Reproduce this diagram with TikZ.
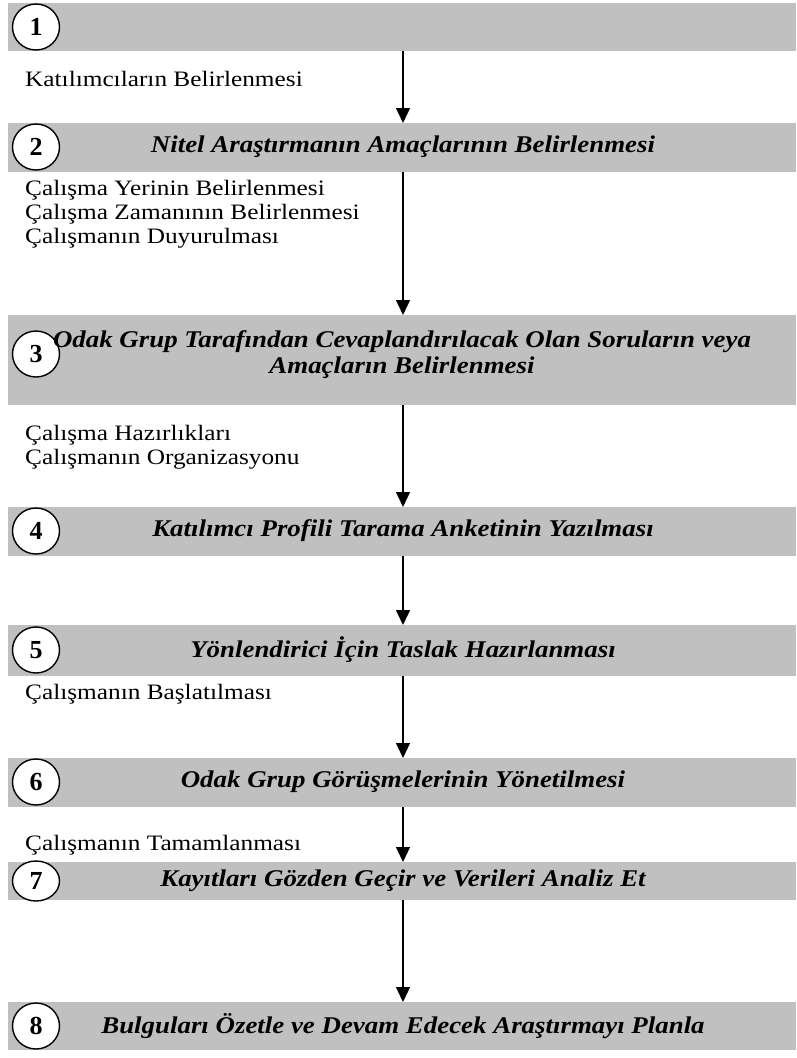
\documentclass[tikz,border=0pt]{standalone}
\usepackage{fontspec}
\setmainfont{Liberation Serif}
\newfontfamily\stagefont[FakeStretch=1.12]{Liberation Serif}
\newfontfamily\notesfont[FakeStretch=1.15]{Liberation Serif}
\usetikzlibrary{arrows.meta}
\definecolor{bargray}{RGB}{192,192,192}
\tikzset{
  bar/.style={fill=bargray, draw=none},
  ring/.style={line width=1.4pt, fill=white},
  num/.style={font=\fontsize{26}{26}\selectfont\bfseries, inner sep=0pt},
  title/.style={font=\stagefont\fontsize{24}{26}\selectfont\bfseries\itshape, inner sep=0pt, align=center},
  note/.style={font=\notesfont\fontsize{22}{24}\selectfont, inner sep=0pt, anchor=west, align=left},
  flow/.style={line width=1.3pt, -{Triangle[width=14pt,length=15pt]}}
}
\begin{document}
\begin{tikzpicture}[x=1pt,y=-1pt]
\useasboundingbox (0,0) rectangle (796,1058);
% grey stage bars
\fill[bar] (8,3)    rectangle (796,51);
\fill[bar] (8,123)  rectangle (796,172);
\fill[bar] (8,315)  rectangle (796,405);
\fill[bar] (8,507)  rectangle (796,556);
\fill[bar] (8,625)  rectangle (796,676);
\fill[bar] (8,758)  rectangle (796,807);
\fill[bar] (8,862)  rectangle (796,900);
\fill[bar] (8,1002) rectangle (796,1050);
% arrow end points on the bar edges
\coordinate (b1s) at (403,51);
\coordinate (b2n) at (403,123);  \coordinate (b2s) at (403,172);
\coordinate (b3n) at (403,315);  \coordinate (b3s) at (403,405);
\coordinate (b4n) at (403,507);  \coordinate (b4s) at (403,556);
\coordinate (b5n) at (403,625);  \coordinate (b5s) at (403,676);
\coordinate (b6n) at (403,758);  \coordinate (b6s) at (403,807);
\coordinate (b7n) at (403,862);  \coordinate (b7s) at (403,900);
\coordinate (b8n) at (403,1002);
% numbered circles
\foreach \n/\y/\r in {1/27/23,2/147/23,3/354/23,4/531/23,5/650/23,6/782/23,7/881/20,8/1026/23}{
  \draw[ring] (36,\y) ellipse [x radius=23.5, y radius=\r];
  \node[num] (c\n) at (36,\y) {\n};
}
% stage titles
\node[title] (t2) at (403,147) {Nitel Araştırmanın Amaçlarının Belirlenmesi};
\node[title] (t3) at (402,355) {Odak Grup Tarafından Cevaplandırılacak Olan Soruların veya\\Amaçların Belirlenmesi};
\node[title] (t4) at (403,531) {Katılımcı Profili Tarama Anketinin Yazılması};
\node[title] (t5) at (403,650) {Yönlendirici İçin Taslak Hazırlanması};
\node[title] (t6) at (403,782) {Odak Grup Görüşmelerinin Yönetilmesi};
\node[title] (t7) at (403,881) {Kayıtları Gözden Geçir ve Verileri Analiz Et};
\node[title] (t8) at (403,1026) {Bulguları Özetle ve Devam Edecek Araştırmayı Planla};
% activities between the stages
\node[note] (n1) at (25,79) {Katılımcıların Belirlenmesi};
\node[note] (n2) at (25,214) {Çalışma Yerinin Belirlenmesi\\Çalışma Zamanının Belirlenmesi\\Çalışmanın Duyurulması};
\node[note] (n3) at (25,447) {Çalışma Hazırlıkları\\Çalışmanın Organizasyonu};
\node[note] (n5) at (25,694) {Çalışmanın Başlatılması};
\node[note] (n6) at (25,845) {Çalışmanın Tamamlanması};
% arrows
\draw[flow] (b1s) -- (b2n);
\draw[flow] (b2s) -- (b3n);
\draw[flow] (b3s) -- (b4n);
\draw[flow] (b4s) -- (b5n);
\draw[flow] (b5s) -- (b6n);
\draw[flow] (b6s) -- (b7n);
\draw[flow] (b7s) -- (b8n);
\end{tikzpicture}
\end{document}
